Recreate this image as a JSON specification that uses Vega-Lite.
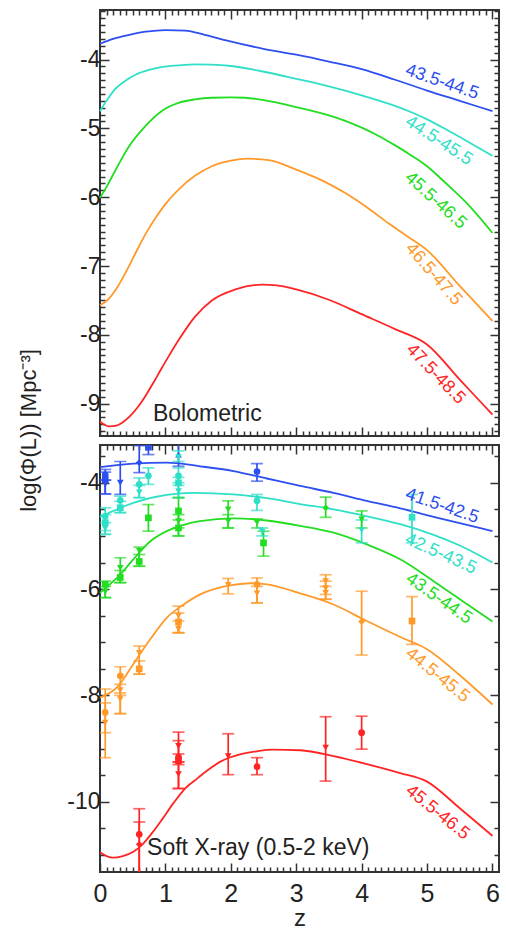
{
  "$schema": "https://vega.github.io/schema/vega-lite/v6.json",
  "padding": {"left": 16, "top": 8, "right": 5, "bottom": 5},
  "bounds": "flush",
  "spacing": 9,
  "config": {
    "font": "Liberation Sans",
    "view": {"stroke": "#333", "strokeWidth": 2},
    "axis": {"labelFont": "Liberation Sans", "labelFontSize": 23, "labelColor": "#222", "tickColor": "#333", "tickWidth": 1.5, "titleFont": "Liberation Sans", "titleFontSize": 23, "titleFontWeight": "normal", "titleColor": "#222", "domain": false, "grid": false, "labelFlush": false},
    "text": {"font": "Liberation Sans"}
  },
  "datasets": {
    "topCurves": [
      {"s":1,"z":0,"v":-3.77},{"s":1,"z":0.2,"v":-3.7},{"s":1,"z":0.43,"v":-3.645},{"s":1,"z":0.7,"v":-3.595},{"s":1,"z":1.0,"v":-3.571},{"s":1,"z":1.3,"v":-3.58},{"s":1,"z":1.6,"v":-3.64},{"s":1,"z":1.96,"v":-3.73},{"s":1,"z":2.48,"v":-3.84},{"s":1,"z":3.0,"v":-3.93},{"s":1,"z":3.5,"v":-4.03},{"s":1,"z":4.0,"v":-4.14},{"s":1,"z":4.5,"v":-4.29},{"s":1,"z":5.0,"v":-4.45},{"s":1,"z":5.5,"v":-4.6},{"s":1,"z":6.0,"v":-4.75},
      {"s":2,"z":0,"v":-4.75},{"s":2,"z":0.1,"v":-4.6},{"s":2,"z":0.23,"v":-4.43},{"s":2,"z":0.4,"v":-4.3},{"s":2,"z":0.54,"v":-4.22},{"s":2,"z":0.75,"v":-4.15},{"s":2,"z":0.94,"v":-4.11},{"s":2,"z":1.2,"v":-4.085},{"s":2,"z":1.45,"v":-4.07},{"s":2,"z":1.7,"v":-4.075},{"s":2,"z":1.96,"v":-4.09},{"s":2,"z":2.47,"v":-4.17},{"s":2,"z":3.0,"v":-4.28},{"s":2,"z":3.5,"v":-4.39},{"s":2,"z":4.0,"v":-4.52},{"s":2,"z":4.5,"v":-4.67},{"s":2,"z":4.77,"v":-4.77},{"s":2,"z":5.0,"v":-4.87},{"s":2,"z":5.28,"v":-5.01},{"s":2,"z":5.6,"v":-5.18},{"s":2,"z":6.0,"v":-5.4},
      {"s":3,"z":0,"v":-6.01},{"s":3,"z":0.1,"v":-5.85},{"s":3,"z":0.23,"v":-5.62},{"s":3,"z":0.43,"v":-5.28},{"s":3,"z":0.69,"v":-4.97},{"s":3,"z":0.94,"v":-4.75},{"s":3,"z":1.2,"v":-4.63},{"s":3,"z":1.45,"v":-4.58},{"s":3,"z":1.71,"v":-4.555},{"s":3,"z":2.0,"v":-4.55},{"s":3,"z":2.22,"v":-4.555},{"s":3,"z":2.5,"v":-4.59},{"s":3,"z":3.0,"v":-4.69},{"s":3,"z":3.5,"v":-4.81},{"s":3,"z":3.75,"v":-4.89},{"s":3,"z":4.0,"v":-4.99},{"s":3,"z":4.26,"v":-5.11},{"s":3,"z":4.5,"v":-5.24},{"s":3,"z":4.77,"v":-5.4},{"s":3,"z":5.0,"v":-5.55},{"s":3,"z":5.28,"v":-5.79},{"s":3,"z":5.6,"v":-6.08},{"s":3,"z":6.0,"v":-6.52},
      {"s":4,"z":0,"v":-7.57},{"s":4,"z":0.12,"v":-7.49},{"s":4,"z":0.25,"v":-7.33},{"s":4,"z":0.4,"v":-7.08},{"s":4,"z":0.55,"v":-6.8},{"s":4,"z":0.7,"v":-6.53},{"s":4,"z":0.85,"v":-6.3},{"s":4,"z":1.0,"v":-6.1},{"s":4,"z":1.2,"v":-5.89},{"s":4,"z":1.45,"v":-5.69},{"s":4,"z":1.71,"v":-5.55},{"s":4,"z":2.0,"v":-5.47},{"s":4,"z":2.25,"v":-5.44},{"s":4,"z":2.58,"v":-5.46},{"s":4,"z":3.0,"v":-5.6},{"s":4,"z":3.4,"v":-5.76},{"s":4,"z":3.75,"v":-5.94},{"s":4,"z":4.1,"v":-6.16},{"s":4,"z":4.41,"v":-6.38},{"s":4,"z":4.7,"v":-6.57},{"s":4,"z":5.0,"v":-6.77},{"s":4,"z":5.5,"v":-7.29},{"s":4,"z":6.0,"v":-7.8},
      {"s":5,"z":0,"v":-9.26},{"s":5,"z":0.07,"v":-9.31},{"s":5,"z":0.15,"v":-9.33},{"s":5,"z":0.25,"v":-9.32},{"s":5,"z":0.35,"v":-9.27},{"s":5,"z":0.45,"v":-9.19},{"s":5,"z":0.57,"v":-9.06},{"s":5,"z":0.7,"v":-8.88},{"s":5,"z":0.82,"v":-8.69},{"s":5,"z":0.94,"v":-8.49},{"s":5,"z":1.07,"v":-8.28},{"s":5,"z":1.2,"v":-8.08},{"s":5,"z":1.45,"v":-7.74},{"s":5,"z":1.71,"v":-7.5},{"s":5,"z":2.07,"v":-7.34},{"s":5,"z":2.48,"v":-7.27},{"s":5,"z":2.7,"v":-7.28},{"s":5,"z":3.0,"v":-7.34},{"s":5,"z":3.5,"v":-7.49},{"s":5,"z":4.0,"v":-7.7},{"s":5,"z":4.52,"v":-7.92},{"s":5,"z":5.0,"v":-8.14},{"s":5,"z":5.5,"v":-8.65},{"s":5,"z":6.0,"v":-9.16}
    ],
    "botCurves": [
      {"s":1,"z":0,"v":-3.705},{"s":1,"z":0.51,"v":-3.64},{"s":1,"z":1.02,"v":-3.62},{"s":1,"z":1.53,"v":-3.69},{"s":1,"z":2.04,"v":-3.78},{"s":1,"z":2.55,"v":-3.92},{"s":1,"z":3.06,"v":-4.06},{"s":1,"z":3.57,"v":-4.19},{"s":1,"z":4.08,"v":-4.34},{"s":1,"z":4.59,"v":-4.48},{"s":1,"z":5.1,"v":-4.64},{"s":1,"z":5.5,"v":-4.76},{"s":1,"z":6.0,"v":-4.91},
      {"s":2,"z":0,"v":-4.645},{"s":2,"z":0.26,"v":-4.5},{"s":2,"z":0.51,"v":-4.38},{"s":2,"z":1.02,"v":-4.23},{"s":2,"z":1.43,"v":-4.19},{"s":2,"z":2.04,"v":-4.22},{"s":2,"z":2.55,"v":-4.29},{"s":2,"z":3.06,"v":-4.4},{"s":2,"z":3.57,"v":-4.5},{"s":2,"z":4.08,"v":-4.63},{"s":2,"z":4.59,"v":-4.78},{"s":2,"z":5.1,"v":-4.98},{"s":2,"z":5.5,"v":-5.18},{"s":2,"z":6.0,"v":-5.5},
      {"s":3,"z":0,"v":-6.07},{"s":3,"z":0.13,"v":-5.93},{"s":3,"z":0.26,"v":-5.79},{"s":3,"z":0.51,"v":-5.44},{"s":3,"z":0.77,"v":-5.1},{"s":3,"z":1.02,"v":-4.91},{"s":3,"z":1.28,"v":-4.79},{"s":3,"z":1.53,"v":-4.72},{"s":3,"z":2.04,"v":-4.67},{"s":3,"z":2.55,"v":-4.71},{"s":3,"z":3.06,"v":-4.81},{"s":3,"z":3.57,"v":-4.94},{"s":3,"z":4.08,"v":-5.16},{"s":3,"z":4.59,"v":-5.44},{"s":3,"z":5.1,"v":-5.85},{"s":3,"z":5.62,"v":-6.29},{"s":3,"z":6.0,"v":-6.61},
      {"s":4,"z":0,"v":-8.04},{"s":4,"z":0.26,"v":-7.85},{"s":4,"z":0.51,"v":-7.41},{"s":4,"z":0.77,"v":-6.94},{"s":4,"z":1.02,"v":-6.54},{"s":4,"z":1.28,"v":-6.29},{"s":4,"z":1.53,"v":-6.1},{"s":4,"z":2.04,"v":-5.92},{"s":4,"z":2.3,"v":-5.89},{"s":4,"z":2.55,"v":-5.91},{"s":4,"z":3.06,"v":-6.08},{"s":4,"z":3.57,"v":-6.29},{"s":4,"z":4.08,"v":-6.6},{"s":4,"z":4.59,"v":-6.9},{"s":4,"z":5.0,"v":-7.13},{"s":4,"z":5.5,"v":-7.62},{"s":4,"z":6.0,"v":-8.17},
      {"s":5,"z":0,"v":-10.95},{"s":5,"z":0.1,"v":-11.02},{"s":5,"z":0.2,"v":-11.05},{"s":5,"z":0.35,"v":-11.02},{"s":5,"z":0.51,"v":-10.94},{"s":5,"z":0.65,"v":-10.8},{"s":5,"z":0.8,"v":-10.58},{"s":5,"z":0.95,"v":-10.33},{"s":5,"z":1.12,"v":-10.03},{"s":5,"z":1.3,"v":-9.75},{"s":5,"z":1.5,"v":-9.55},{"s":5,"z":1.63,"v":-9.42},{"s":5,"z":1.85,"v":-9.24},{"s":5,"z":2.14,"v":-9.11},{"s":5,"z":2.4,"v":-9.05},{"s":5,"z":2.65,"v":-9.02},{"s":5,"z":3.06,"v":-9.03},{"s":5,"z":3.57,"v":-9.14},{"s":5,"z":4.08,"v":-9.29},{"s":5,"z":4.59,"v":-9.46},{"s":5,"z":5.0,"v":-9.62},{"s":5,"z":5.5,"v":-10.12},{"s":5,"z":6.0,"v":-10.64}
    ],
    "points": [
      {"s":1,"k":"c","z":0.08,"v":-3.85,"lo":-3.95,"hi":-3.75},
      {"s":1,"k":"s","z":0.08,"v":-3.94,"lo":-4.21,"hi":-3.8},
      {"s":1,"k":"d","z":0.08,"v":-4.03,"lo":-4.21,"hi":-3.95},
      {"s":1,"k":"d","z":0.31,"v":-4.0,"lo":-4.22,"hi":-3.6},
      {"s":1,"k":"m","z":0.6,"v":-3.62,"lo":-3.81,"hi":-3.3},
      {"s":1,"k":"s","z":0.74,"v":-3.33,"lo":-3.47,"hi":-3.2},
      {"s":1,"k":"u","z":1.2,"v":-3.47,"lo":-3.69,"hi":-3.2},
      {"s":1,"k":"c","z":2.4,"v":-3.79,"lo":-3.97,"hi":-3.64},
      {"s":2,"k":"c","z":0.08,"v":-4.63,"lo":-4.97,"hi":-4.47},
      {"s":2,"k":"s","z":0.08,"v":-4.75,"lo":-4.9,"hi":-4.6},
      {"s":2,"k":"d","z":0.08,"v":-4.86,"lo":-4.97,"hi":-4.75},
      {"s":2,"k":"c","z":0.31,"v":-4.33,"lo":-4.56,"hi":-4.25},
      {"s":2,"k":"s","z":0.31,"v":-4.47,"lo":-4.56,"hi":-4.35},
      {"s":2,"k":"c","z":0.6,"v":-4.03,"lo":-4.28,"hi":-3.91},
      {"s":2,"k":"d","z":0.6,"v":-4.18,"lo":-4.28,"hi":-4.05},
      {"s":2,"k":"c","z":0.74,"v":-3.87,"lo":-4.03,"hi":-3.72},
      {"s":2,"k":"c","z":1.2,"v":-3.87,"lo":-4.0,"hi":-3.72},
      {"s":2,"k":"s","z":1.2,"v":-4.0,"lo":-4.28,"hi":-3.9},
      {"s":2,"k":"d","z":1.2,"v":-4.16,"lo":-4.28,"hi":-4.05},
      {"s":2,"k":"d","z":1.2,"v":-3.52,"lo":-3.6,"hi":-3.4},
      {"s":2,"k":"c","z":2.4,"v":-4.34,"lo":-4.52,"hi":-4.22},
      {"s":2,"k":"d","z":2.48,"v":-4.92,"lo":-5.0,"hi":-4.85},
      {"s":2,"k":"d","z":4.0,"v":-4.89,"lo":-5.13,"hi":-4.7},
      {"s":2,"k":"s","z":4.77,"v":-4.65,"lo":-5.13,"hi":-4.22},
      {"s":3,"k":"s","z":0.08,"v":-5.91,"lo":-6.16,"hi":-5.85},
      {"s":3,"k":"d","z":0.08,"v":-6.05,"lo":-6.16,"hi":-5.95},
      {"s":3,"k":"d","z":0.31,"v":-5.6,"lo":-5.88,"hi":-5.41},
      {"s":3,"k":"s","z":0.31,"v":-5.78,"lo":-5.88,"hi":-5.65},
      {"s":3,"k":"d","z":0.6,"v":-5.28,"lo":-5.57,"hi":-5.21},
      {"s":3,"k":"s","z":0.6,"v":-5.48,"lo":-5.57,"hi":-5.35},
      {"s":3,"k":"s","z":0.74,"v":-4.66,"lo":-4.91,"hi":-4.41},
      {"s":3,"k":"s","z":1.2,"v":-4.53,"lo":-5.0,"hi":-4.28},
      {"s":3,"k":"s","z":1.2,"v":-4.85,"lo":-5.0,"hi":-4.7},
      {"s":3,"k":"d","z":1.2,"v":-4.72,"lo":-4.85,"hi":-4.6},
      {"s":3,"k":"d","z":1.96,"v":-4.5,"lo":-4.85,"hi":-4.34},
      {"s":3,"k":"d","z":1.96,"v":-4.72,"lo":-4.85,"hi":-4.6},
      {"s":3,"k":"d","z":2.4,"v":-4.75,"lo":-4.85,"hi":-4.68},
      {"s":3,"k":"s","z":2.5,"v":-5.13,"lo":-5.38,"hi":-4.91},
      {"s":3,"k":"m","z":3.45,"v":-4.47,"lo":-4.65,"hi":-4.27},
      {"s":3,"k":"d","z":4.0,"v":-4.69,"lo":-4.85,"hi":-4.53},
      {"s":4,"k":"c","z":0.08,"v":-8.32,"lo":-9.17,"hi":-7.88},
      {"s":4,"k":"d","z":0.08,"v":-8.51,"lo":-8.7,"hi":-8.14},
      {"s":4,"k":"c","z":0.31,"v":-7.63,"lo":-8.34,"hi":-7.46},
      {"s":4,"k":"d","z":0.31,"v":-7.9,"lo":-8.0,"hi":-7.79},
      {"s":4,"k":"d","z":0.31,"v":-8.07,"lo":-8.34,"hi":-7.95},
      {"s":4,"k":"d","z":0.6,"v":-7.2,"lo":-7.6,"hi":-7.07},
      {"s":4,"k":"s","z":0.6,"v":-7.5,"lo":-7.6,"hi":-7.35},
      {"s":4,"k":"d","z":1.2,"v":-6.5,"lo":-6.82,"hi":-6.32},
      {"s":4,"k":"s","z":1.2,"v":-6.62,"lo":-6.82,"hi":-6.45},
      {"s":4,"k":"d","z":1.2,"v":-6.75,"lo":-6.82,"hi":-6.6},
      {"s":4,"k":"d","z":1.96,"v":-5.92,"lo":-6.09,"hi":-5.8},
      {"s":4,"k":"c","z":2.4,"v":-5.91,"lo":-6.26,"hi":-5.79},
      {"s":4,"k":"d","z":2.4,"v":-6.08,"lo":-6.26,"hi":-5.95},
      {"s":4,"k":"d","z":3.45,"v":-5.85,"lo":-6.19,"hi":-5.73},
      {"s":4,"k":"d","z":3.45,"v":-5.98,"lo":-6.1,"hi":-5.85},
      {"s":4,"k":"d","z":3.45,"v":-6.07,"lo":-6.19,"hi":-5.95},
      {"s":4,"k":"m","z":4.0,"v":-6.61,"lo":-7.24,"hi":-6.04},
      {"s":4,"k":"s","z":4.77,"v":-6.6,"lo":-7.04,"hi":-6.14},
      {"s":5,"k":"c","z":0.6,"v":-10.61,"lo":-11.5,"hi":-10.13},
      {"s":5,"k":"m","z":0.6,"v":-10.8,"lo":-11.5,"hi":-10.38},
      {"s":5,"k":"c","z":1.2,"v":-9.16,"lo":-9.75,"hi":-8.69},
      {"s":5,"k":"d","z":1.2,"v":-8.95,"lo":-9.25,"hi":-8.85},
      {"s":5,"k":"s","z":1.2,"v":-9.23,"lo":-9.25,"hi":-9.1},
      {"s":5,"k":"d","z":1.2,"v":-9.48,"lo":-9.75,"hi":-9.3},
      {"s":5,"k":"d","z":1.96,"v":-9.14,"lo":-9.49,"hi":-8.72},
      {"s":5,"k":"c","z":2.4,"v":-9.34,"lo":-9.49,"hi":-9.17},
      {"s":5,"k":"d","z":3.45,"v":-8.98,"lo":-9.61,"hi":-8.4},
      {"s":5,"k":"c","z":4.0,"v":-8.7,"lo":-9.01,"hi":-8.39}
    ],
    "topLabels": [
      {"s":1,"z":5.23,"v":-4.33,"t":"43.5-44.5"},
      {"s":2,"z":5.18,"v":-5.18,"t":"44.5-45.5"},
      {"s":3,"z":5.13,"v":-6.05,"t":"45.5-46.5"},
      {"s":4,"z":5.1,"v":-7.12,"t":"46.5-47.5"},
      {"s":5,"z":5.13,"v":-8.57,"t":"47.5-48.5"}
    ],
    "botLabels": [
      {"s":1,"z":5.23,"v":-4.44,"t":"41.5-42.5"},
      {"s":2,"z":5.21,"v":-5.34,"t":"42.5-43.5"},
      {"s":3,"z":5.18,"v":-6.18,"t":"43.5-44.5"},
      {"s":4,"z":5.16,"v":-7.62,"t":"44.5-45.5"},
      {"s":5,"z":5.16,"v":-10.2,"t":"45.5-46.5"}
    ],
    "notes": [
      {"panel":"top","z":0.81,"v":-9.15,"t":"Bolometric"},
      {"panel":"bottom","z":0.72,"v":-10.87,"t":"Soft X-ray (0.5-2 keV)"}
    ]
  },
  "vconcat": [
    {
      "width": 399,
      "height": 426,
      "resolve": {"axis": {"x": "independent", "y": "independent"}},
      "layer": [
        {
          "data": {"name": "topCurves"},
          "mark": {"type": "line", "strokeWidth": 1.8, "interpolate": "monotone"},
          "encoding": {
            "x": {"field": "z", "type": "quantitative", "scale": {"domain": [0, 6.1], "nice": false, "zero": false}, "axis": {"orient": "bottom", "values": [0,1,2,3,4,5,6], "labels": false, "tickSize": -9, "title": null}},
            "y": {"field": "v", "type": "quantitative", "scale": {"domain": [-9.47, -3.28], "nice": false, "zero": false}, "axis": {"orient": "left", "values": [-9,-8,-7,-6,-5,-4], "tickSize": -9, "labelPadding": 9, "labelExpr": "'' + datum.value", "title": "log(Φ(L))  [Mpc⁻³]", "titleFontSize": 22, "titleAngle": 270, "titleX": -72, "titleY": 420, "titleAlign": "center", "titleBaseline": "middle"}},
            "color": {"field": "s", "type": "nominal", "scale": {"domain": [1,2,3,4,5], "range": ["#2e4ff0","#2fe0c8","#22dd22","#ff9a2a","#ff2424"]}, "legend": null}
          }
        },
        {
          "data": {"name": "topLabels"},
          "transform": [{"filter": "datum.s == 1"}],
          "mark": {"type": "text", "fontSize": 18, "angle": 19},
          "encoding": {
            "x": {"field": "z", "type": "quantitative", "scale": {"domain": [0, 6.1], "nice": false, "zero": false}, "axis": {"orient": "bottom", "values": [0.1,0.2,0.3,0.4,0.5,0.6,0.7,0.8,0.9,1.1,1.2,1.3,1.4,1.5,1.6,1.7,1.8,1.9,2.1,2.2,2.3,2.4,2.5,2.6,2.7,2.8,2.9,3.1,3.2,3.3,3.4,3.5,3.6,3.7,3.8,3.9,4.1,4.2,4.3,4.4,4.5,4.6,4.7,4.8,4.9,5.1,5.2,5.3,5.4,5.5,5.6,5.7,5.8,5.9], "labels": false, "tickSize": -5, "title": null}},
            "y": {"field": "v", "type": "quantitative", "scale": {"domain": [-9.47, -3.28], "nice": false, "zero": false}, "axis": {"orient": "left", "values": [-9.4,-9.3,-9.2,-9.1,-8.9,-8.8,-8.7,-8.6,-8.5,-8.4,-8.3,-8.2,-8.1,-7.9,-7.8,-7.7,-7.6,-7.5,-7.4,-7.3,-7.2,-7.1,-6.9,-6.8,-6.7,-6.6,-6.5,-6.4,-6.3,-6.2,-6.1,-5.9,-5.8,-5.7,-5.6,-5.5,-5.4,-5.3,-5.2,-5.1,-4.9,-4.8,-4.7,-4.6,-4.5,-4.4,-4.3,-4.2,-4.1,-3.9,-3.8,-3.7,-3.6,-3.5,-3.4,-3.3], "labels": false, "tickSize": -5, "title": null}},
            "text": {"field": "t"},
            "color": {"field": "s", "type": "nominal", "legend": null}
          }
        },
        {
          "data": {"name": "topLabels"},
          "transform": [{"filter": "datum.s == 2"}],
          "mark": {"type": "text", "fontSize": 18, "angle": 33},
          "encoding": {
            "x": {"field": "z", "type": "quantitative", "scale": {"domain": [0, 6.1], "nice": false, "zero": false}, "axis": {"orient": "top", "values": [0,1,2,3,4,5,6], "labels": false, "tickSize": -9, "title": null}},
            "y": {"field": "v", "type": "quantitative", "scale": {"domain": [-9.47, -3.28], "nice": false, "zero": false}, "axis": {"orient": "right", "values": [-9,-8,-7,-6,-5,-4], "labels": false, "tickSize": -9, "title": null}},
            "text": {"field": "t"},
            "color": {"field": "s", "type": "nominal", "legend": null}
          }
        },
        {
          "data": {"name": "topLabels"},
          "transform": [{"filter": "datum.s == 3"}],
          "mark": {"type": "text", "fontSize": 18, "angle": 42},
          "encoding": {
            "x": {"field": "z", "type": "quantitative", "scale": {"domain": [0, 6.1], "nice": false, "zero": false}, "axis": {"orient": "top", "values": [0.1,0.2,0.3,0.4,0.5,0.6,0.7,0.8,0.9,1.1,1.2,1.3,1.4,1.5,1.6,1.7,1.8,1.9,2.1,2.2,2.3,2.4,2.5,2.6,2.7,2.8,2.9,3.1,3.2,3.3,3.4,3.5,3.6,3.7,3.8,3.9,4.1,4.2,4.3,4.4,4.5,4.6,4.7,4.8,4.9,5.1,5.2,5.3,5.4,5.5,5.6,5.7,5.8,5.9], "labels": false, "tickSize": -5, "title": null}},
            "y": {"field": "v", "type": "quantitative", "scale": {"domain": [-9.47, -3.28], "nice": false, "zero": false}, "axis": {"orient": "right", "values": [-9.4,-9.3,-9.2,-9.1,-8.9,-8.8,-8.7,-8.6,-8.5,-8.4,-8.3,-8.2,-8.1,-7.9,-7.8,-7.7,-7.6,-7.5,-7.4,-7.3,-7.2,-7.1,-6.9,-6.8,-6.7,-6.6,-6.5,-6.4,-6.3,-6.2,-6.1,-5.9,-5.8,-5.7,-5.6,-5.5,-5.4,-5.3,-5.2,-5.1,-4.9,-4.8,-4.7,-4.6,-4.5,-4.4,-4.3,-4.2,-4.1,-3.9,-3.8,-3.7,-3.6,-3.5,-3.4,-3.3], "labels": false, "tickSize": -5, "title": null}},
            "text": {"field": "t"},
            "color": {"field": "s", "type": "nominal", "legend": null}
          }
        },
        {
          "data": {"name": "topLabels"},
          "transform": [{"filter": "datum.s == 4"}],
          "mark": {"type": "text", "fontSize": 18, "angle": 49},
          "encoding": {
            "x": {"field": "z", "type": "quantitative", "axis": null},
            "y": {"field": "v", "type": "quantitative", "axis": null},
            "text": {"field": "t"},
            "color": {"field": "s", "type": "nominal", "legend": null}
          }
        },
        {
          "data": {"name": "topLabels"},
          "transform": [{"filter": "datum.s == 5"}],
          "mark": {"type": "text", "fontSize": 18, "angle": 46},
          "encoding": {
            "x": {"field": "z", "type": "quantitative", "axis": null},
            "y": {"field": "v", "type": "quantitative", "axis": null},
            "text": {"field": "t"},
            "color": {"field": "s", "type": "nominal", "legend": null}
          }
        },
        {
          "data": {"name": "notes"},
          "transform": [{"filter": "datum.panel == 'top'"}],
          "mark": {"type": "text", "fontSize": 23, "align": "left", "baseline": "middle", "color": "#222"},
          "encoding": {
            "x": {"field": "z", "type": "quantitative", "axis": null},
            "y": {"field": "v", "type": "quantitative", "axis": null},
            "text": {"field": "t"}
          }
        }
      ]
    },
    {
      "width": 399,
      "height": 427,
      "resolve": {"axis": {"x": "independent", "y": "independent"}},
      "layer": [
        {
          "data": {"name": "botCurves"},
          "mark": {"type": "line", "strokeWidth": 1.8, "interpolate": "monotone"},
          "encoding": {
            "x": {"field": "z", "type": "quantitative", "scale": {"domain": [0, 6.1], "nice": false, "zero": false}, "axis": {"orient": "bottom", "values": [0,1,2,3,4,5,6], "tickSize": -9, "labelPadding": 18, "labelFontSize": 25, "title": "z", "titleFontSize": 24, "titlePadding": 0}},
            "y": {"field": "v", "type": "quantitative", "scale": {"domain": [-11.32, -3.29], "nice": false, "zero": false}, "axis": {"orient": "left", "values": [-10,-8,-6,-4], "tickSize": -9, "labelPadding": 9, "labelExpr": "'' + datum.value", "title": null}},
            "color": {"field": "s", "type": "nominal", "legend": null}
          }
        },
        {
          "data": {"name": "points"},
          "mark": {"type": "rule", "strokeWidth": 1.7, "clip": true},
          "encoding": {
            "x": {"field": "z", "type": "quantitative", "scale": {"domain": [0, 6.1], "nice": false, "zero": false}, "axis": {"orient": "bottom", "values": [0.1,0.2,0.3,0.4,0.5,0.6,0.7,0.8,0.9,1.1,1.2,1.3,1.4,1.5,1.6,1.7,1.8,1.9,2.1,2.2,2.3,2.4,2.5,2.6,2.7,2.8,2.9,3.1,3.2,3.3,3.4,3.5,3.6,3.7,3.8,3.9,4.1,4.2,4.3,4.4,4.5,4.6,4.7,4.8,4.9,5.1,5.2,5.3,5.4,5.5,5.6,5.7,5.8,5.9], "labels": false, "tickSize": -5, "title": null}},
            "y": {"field": "lo", "type": "quantitative", "scale": {"domain": [-11.32, -3.29], "nice": false, "zero": false}, "axis": {"orient": "left", "values": [-11,-10.5,-9.5,-9,-8.5,-7.5,-7,-6.5,-5.5,-5,-4.5,-3.5], "labels": false, "tickSize": -5, "title": null}},
            "y2": {"field": "hi"},
            "color": {"field": "s", "type": "nominal", "legend": null}
          }
        },
        {
          "data": {"name": "points"},
          "mark": {"type": "tick", "orient": "horizontal", "size": 12, "thickness": 1.7, "clip": true},
          "encoding": {
            "x": {"field": "z", "type": "quantitative", "scale": {"domain": [0, 6.1], "nice": false, "zero": false}, "axis": {"orient": "top", "values": [0,1,2,3,4,5,6], "labels": false, "tickSize": -9, "title": null}},
            "y": {"field": "lo", "type": "quantitative", "scale": {"domain": [-11.32, -3.29], "nice": false, "zero": false}, "axis": {"orient": "right", "values": [-10,-8,-6,-4], "labels": false, "tickSize": -9, "title": null}},
            "color": {"field": "s", "type": "nominal", "legend": null}
          }
        },
        {
          "data": {"name": "points"},
          "mark": {"type": "tick", "orient": "horizontal", "size": 12, "thickness": 1.7, "clip": true},
          "encoding": {
            "x": {"field": "z", "type": "quantitative", "scale": {"domain": [0, 6.1], "nice": false, "zero": false}, "axis": {"orient": "top", "values": [0.1,0.2,0.3,0.4,0.5,0.6,0.7,0.8,0.9,1.1,1.2,1.3,1.4,1.5,1.6,1.7,1.8,1.9,2.1,2.2,2.3,2.4,2.5,2.6,2.7,2.8,2.9,3.1,3.2,3.3,3.4,3.5,3.6,3.7,3.8,3.9,4.1,4.2,4.3,4.4,4.5,4.6,4.7,4.8,4.9,5.1,5.2,5.3,5.4,5.5,5.6,5.7,5.8,5.9], "labels": false, "tickSize": -5, "title": null}},
            "y": {"field": "hi", "type": "quantitative", "scale": {"domain": [-11.32, -3.29], "nice": false, "zero": false}, "axis": {"orient": "right", "values": [-11,-10.5,-9.5,-9,-8.5,-7.5,-7,-6.5,-5.5,-5,-4.5,-3.5], "labels": false, "tickSize": -5, "title": null}},
            "color": {"field": "s", "type": "nominal", "legend": null}
          }
        },
        {
          "data": {"name": "points"},
          "mark": {"type": "point", "filled": true, "size": 45, "opacity": 1, "clip": true},
          "encoding": {
            "x": {"field": "z", "type": "quantitative", "axis": null},
            "y": {"field": "v", "type": "quantitative", "axis": null},
            "color": {"field": "s", "type": "nominal", "legend": null},
            "shape": {"field": "k", "type": "nominal", "scale": {"domain": ["c","s","d","m","u"], "range": ["circle","square","triangle-down","diamond","triangle-up"]}, "legend": null}
          }
        },
        {
          "data": {"name": "botLabels"},
          "transform": [{"filter": "datum.s == 1"}],
          "mark": {"type": "text", "fontSize": 18, "angle": 19},
          "encoding": {"x": {"field": "z", "type": "quantitative", "axis": null}, "y": {"field": "v", "type": "quantitative", "axis": null}, "text": {"field": "t"}, "color": {"field": "s", "type": "nominal", "legend": null}}
        },
        {
          "data": {"name": "botLabels"},
          "transform": [{"filter": "datum.s == 2"}],
          "mark": {"type": "text", "fontSize": 18, "angle": 24},
          "encoding": {"x": {"field": "z", "type": "quantitative", "axis": null}, "y": {"field": "v", "type": "quantitative", "axis": null}, "text": {"field": "t"}, "color": {"field": "s", "type": "nominal", "legend": null}}
        },
        {
          "data": {"name": "botLabels"},
          "transform": [{"filter": "datum.s == 3"}],
          "mark": {"type": "text", "fontSize": 18, "angle": 35},
          "encoding": {"x": {"field": "z", "type": "quantitative", "axis": null}, "y": {"field": "v", "type": "quantitative", "axis": null}, "text": {"field": "t"}, "color": {"field": "s", "type": "nominal", "legend": null}}
        },
        {
          "data": {"name": "botLabels"},
          "transform": [{"filter": "datum.s == 4"}],
          "mark": {"type": "text", "fontSize": 18, "angle": 39},
          "encoding": {"x": {"field": "z", "type": "quantitative", "axis": null}, "y": {"field": "v", "type": "quantitative", "axis": null}, "text": {"field": "t"}, "color": {"field": "s", "type": "nominal", "legend": null}}
        },
        {
          "data": {"name": "botLabels"},
          "transform": [{"filter": "datum.s == 5"}],
          "mark": {"type": "text", "fontSize": 18, "angle": 39},
          "encoding": {"x": {"field": "z", "type": "quantitative", "axis": null}, "y": {"field": "v", "type": "quantitative", "axis": null}, "text": {"field": "t"}, "color": {"field": "s", "type": "nominal", "legend": null}}
        },
        {
          "data": {"name": "notes"},
          "transform": [{"filter": "datum.panel == 'bottom'"}],
          "mark": {"type": "text", "fontSize": 23, "align": "left", "baseline": "middle", "color": "#222"},
          "encoding": {
            "x": {"field": "z", "type": "quantitative", "axis": null},
            "y": {"field": "v", "type": "quantitative", "axis": null},
            "text": {"field": "t"}
          }
        }
      ]
    }
  ]
}
